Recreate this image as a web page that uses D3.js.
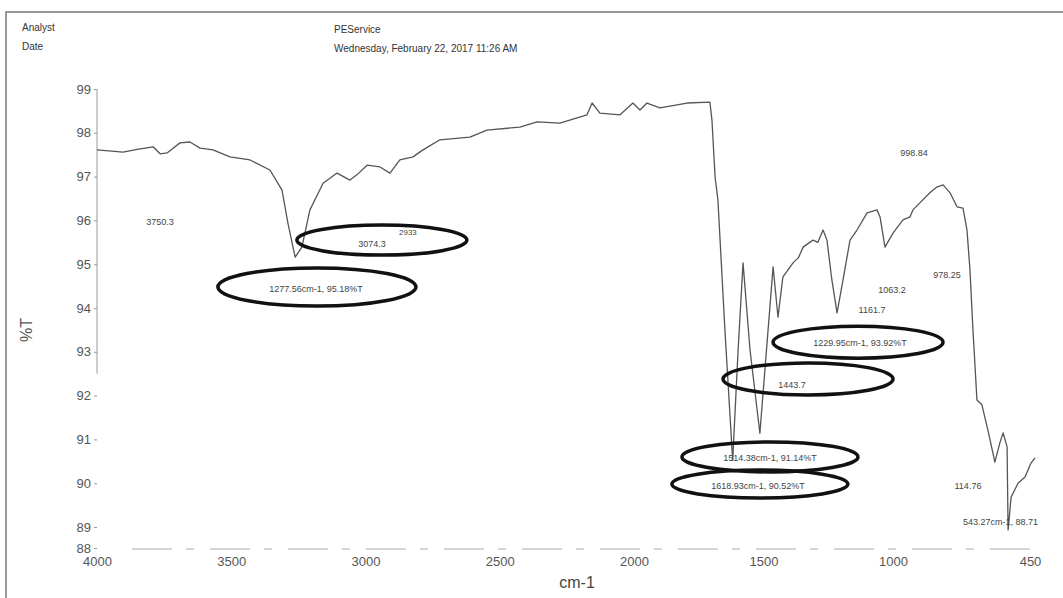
<!DOCTYPE html>
<html>
<head>
<meta charset="utf-8">
<script src="https://cdn.jsdelivr.net/npm/d3@7"></script>
<style>
  body { margin: 0; background: #fff; }
  text { font-family: "Liberation Sans", Arial, sans-serif; }
</style>
</head>
<body>
<script>
// Spectrum (wavenumber in cm-1, transmittance in %T)
const wavenumber = [4000, 3903, 3850, 3791, 3765, 3739, 3691, 3654, 3616, 3568, 3505, 3430, 3356, 3311, 3289, 3270, 3262,
  3237, 3207, 3158, 3106, 3058, 3032, 2994, 2946, 2909, 2872, 2823, 2786, 2723, 2611, 2548, 2425, 2361, 2276,
  2212, 2175, 2156, 2127, 2052, 2004, 1977, 1950, 1900, 1795, 1707, 1699, 1687, 1676, 1649, 1619, 1598, 1579,
  1552, 1514, 1463, 1444, 1425, 1386, 1365, 1347, 1309, 1290, 1270, 1255, 1236, 1216, 1193, 1166, 1139, 1100, 1062, 1050,
  1031, 1000, 960, 932, 920, 892, 852, 824, 799, 771, 743, 719, 703, 691, 679, 663, 643, 619, 591, 571, 558,
  542, 538, 534, 526, 498, 470, 446, 430];
const transmittance = [97.61, 97.56, 97.62, 97.68, 97.52, 97.54, 97.77, 97.79, 97.65, 97.61, 97.45, 97.38, 97.15, 96.69, 95.94, 95.39, 95.16,
  95.39, 96.24, 96.85, 97.08, 96.92, 97.04, 97.26, 97.22, 97.08, 97.38, 97.45, 97.61, 97.84, 97.9, 98.06, 98.13, 98.25, 98.22,
  98.34, 98.41, 98.68, 98.45, 98.41, 98.68, 98.52, 98.68, 98.57, 98.68, 98.7, 98.29, 96.99, 96.47, 93.5, 90.52, 93.04, 95.03,
  93.04, 91.14, 94.94, 93.79, 94.71, 95.03, 95.15, 95.39, 95.55, 95.5, 95.78, 95.55, 94.64, 93.89, 94.64, 95.55, 95.78, 96.17, 96.24, 96.08,
  95.39, 95.71, 96.01, 96.08, 96.24, 96.4, 96.63, 96.76, 96.81, 96.63, 96.31, 96.28, 95.78, 94.87, 93.5, 91.9, 91.79, 91.21, 90.48, 90.92, 91.15,
  90.83, 88.86, 89.16, 89.68, 90.0, 90.14, 90.46, 90.58];

const xTicks = [4000, 3500, 3000, 2500, 2000, 1500, 1000, 450];
const yTicks = [99, 98, 97, 96, 95, 94, 93, 92, 91, 90, 89, 88];

// Peak labels written on the printout
const labelText = ['3750.3', '3074.3', '2933', '1277.56cm-1, 95.18%T', '998.84', '1063.2', '1161.7', '978.25',
  '1229.95cm-1, 93.92%T', '1443.7', '1514.38cm-1, 91.14%T', '1618.93cm-1, 90.52%T', '114.76', '543.27cm-1, 88.71'];
const labelWn = [3765, 2976, 2842, 3184, 916, 1004, 1081, 783, 1127, 1390, 1475, 1521, 699, 719];
const labelT = [95.96, 95.46, 95.74, 94.43, 97.54, 94.41, 93.95, 94.75, 93.2, 92.24, 90.58, 89.94, 89.94, 89.11];

// Hand-drawn ellipses (centres in data units)
const ringWn = [2939, 3181, 1135, 1328, 1475, 1514];
const ringT = [95.55, 94.48, 93.22, 92.38, 90.6, 89.98];

const width = 1063;
const height = 598;

// The printout's axis is not uniform: wider per cm-1 above 2000
const x = d3.scaleLinear()
    .domain([4000, 2000, 1000, 450])
    .range([97, 634, 893, 1030]);

const y = d3.scaleLinear()
    .domain([88, 89, 99])
    .range([548, 527, 89]);

const svg = d3.select('body')
    .append('svg')
    .attr('width', width)
    .attr('height', height);

// Page frame
svg.append('rect')
    .attr('x', 6).attr('y', 12)
    .attr('width', width + 10).attr('height', height + 10)
    .attr('fill', 'none')
    .attr('stroke', '#777')
    .attr('stroke-width', 1.5);

// Header
const header = ['Analyst', 'Date', 'PEService', 'Wednesday, February 22, 2017 11:26 AM'];
svg.selectAll('text.header')
    .data(header)
    .enter()
    .append('text')
    .attr('class', 'header')
    .attr('x', (d, i) => i < 2 ? 22 : 334)
    .attr('y', (d, i) => [31, 50, 33, 52][i])
    .style('font-size', '10px')
    .attr('fill', '#333')
    .text(d => d);

// Y axis
const yAxis = svg.append('g')
    .attr('transform', 'translate(97,0)')
    .call(d3.axisLeft(y).tickValues(yTicks).tickSize(3).tickFormat(d3.format('d')));
yAxis.select('.domain')
    .attr('d', `M0,${y(99)}V${y(92.5)}`)
    .attr('stroke', '#999');
yAxis.selectAll('.tick line').attr('stroke', '#999');
yAxis.selectAll('.tick text')
    .attr('fill', '#555')
    .style('font-size', '13px')
    .style('font-family', '"Liberation Sans", Arial, sans-serif');

svg.append('text')
    .attr('transform', `translate(32,${(y(93.5))}) rotate(-90)`)
    .attr('text-anchor', 'middle')
    .attr('fill', '#555')
    .style('font-size', '16px')
    .text('%T');

// X axis (faint dashed baseline on the scan)
const xAxis = svg.append('g')
    .attr('transform', 'translate(0,549)')
    .call(d3.axisBottom(x).tickValues(xTicks).tickSize(0).tickPadding(8).tickFormat(d3.format('d')));
xAxis.select('.domain')
    .attr('d', `M${x(3870)},0H${x(450)}`)
    .attr('stroke', '#aaa')
    .attr('stroke-dasharray', '40,14,8,16');
xAxis.selectAll('.tick text')
    .attr('fill', '#555')
    .style('font-size', '13px')
    .style('font-family', '"Liberation Sans", Arial, sans-serif');

svg.append('text')
    .attr('x', 577)
    .attr('y', 588)
    .attr('text-anchor', 'middle')
    .attr('fill', '#444')
    .style('font-size', '16px')
    .text('cm-1');

// Spectrum
const points = wavenumber.map((w, i) => ({ w: w, t: transmittance[i] }));
svg.append('path')
    .datum(points)
    .attr('fill', 'none')
    .attr('stroke', '#555')
    .attr('stroke-width', 1.3)
    .attr('stroke-linejoin', 'round')
    .attr('d', d3.line().x(d => x(d.w)).y(d => y(d.t)));

// Ellipses
const ringSize = [[85, 15], [99, 19], [85, 16], [85, 16], [88, 15], [88, 14]];
svg.selectAll('ellipse')
    .data(ringWn.map((w, i) => ({ w: w, t: ringT[i], r: ringSize[i] })))
    .enter()
    .append('ellipse')
    .attr('cx', d => x(d.w))
    .attr('cy', d => y(d.t))
    .attr('rx', d => d.r[0])
    .attr('ry', d => d.r[1])
    .attr('fill', 'none')
    .attr('stroke', '#111')
    .attr('stroke-width', 3.5);

// Peak labels
const labels = labelText.map((s, i) => ({ s: s, w: labelWn[i], t: labelT[i] }));
svg.selectAll('text.label')
    .data(labels)
    .enter()
    .append('text')
    .attr('class', 'label')
    .attr('x', d => x(d.w))
    .attr('y', d => y(d.t))
    .attr('dy', '0.35em')
    .attr('text-anchor', d => d.s.startsWith('543') ? 'start' : 'middle')
    .attr('fill', '#444')
    .style('font-size', d => d.s === '2933' ? '8px' : '9px')
    .text(d => d.s);
</script>
</body>
</html>
